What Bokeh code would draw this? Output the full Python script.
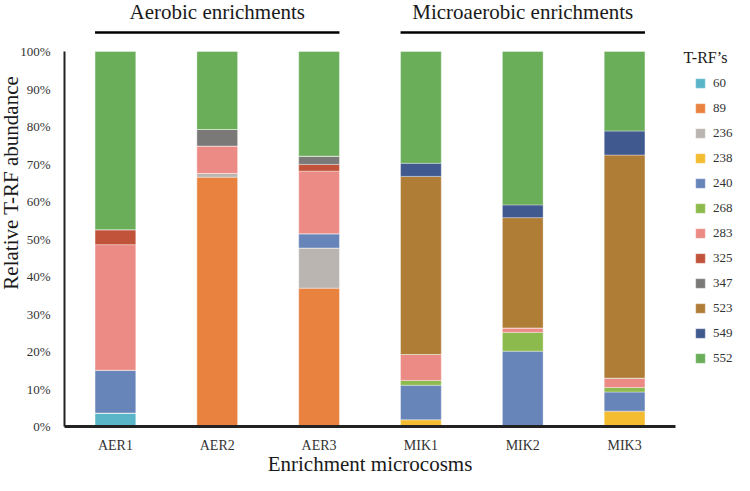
import math
from bokeh.plotting import figure
from bokeh.models import (Range1d, FixedTicker, PrintfTickFormatter, Legend,
                          LegendItem, ColumnDataSource)
from bokeh.core.properties import value
from bokeh.embed import file_html
from bokeh.resources import INLINE

# ---------------- data ----------------
samples = ["AER1", "AER2", "AER3", "MIK1", "MIK2", "MIK3"]
group_names = ["Aerobic enrichments", "Microaerobic enrichments"]
group_members = [["AER1", "AER2", "AER3"], ["MIK1", "MIK2", "MIK3"]]
trfs = ["60", "89", "236", "238", "240", "268", "283", "325", "347", "523", "549", "552"]
trf_colors = ["#5ab5c9", "#e9823f", "#bab5b1", "#f4bc31", "#6885b9", "#8dba4c",
              "#ec8b85", "#c0533a", "#7b7978", "#b07d36", "#40598f", "#6aae5a"]

t60 = [3.6, 0, 0, 0, 0, 0]
t89 = [0, 66.5, 36.9, 0, 0, 0]
t236 = [0, 1.0, 10.7, 0, 0, 0]
t238 = [0, 0, 0, 1.8, 0, 4.1]
t240 = [11.4, 0, 3.8, 9.2, 20.1, 5.1]
t268 = [0, 0, 0, 1.3, 5.0, 1.2]
t283 = [33.5, 7.3, 16.7, 6.9, 1.2, 2.5]
t325 = [4.0, 0, 1.8, 0, 0, 0]
t347 = [0, 4.4, 2.2, 0, 0, 0]
t523 = [0, 0, 0, 47.5, 29.4, 59.5]
t549 = [0, 0, 0, 3.5, 3.4, 6.4]
t552 = [47.5, 20.8, 27.9, 29.8, 40.9, 21.2]
series = [t60, t89, t236, t238, t240, t268, t283, t325, t347, t523, t549, t552]

y_ticks = [0, 10, 20, 30, 40, 50, 60, 70, 80, 90, 100]

# ---------------- layout ----------------
W, H = 734, 475
FONT = "Liberation Serif"
BAR_W = 0.4
AX_LEFT_PX, AX_RIGHT_PX = 64, 675     # x of y-axis, end of x-axis
Y0_PX, Y100_PX = 426, 51              # canvas y of 0% and 100%
px_x = (AX_RIGHT_PX - AX_LEFT_PX) / len(samples)
px_y = (Y0_PX - Y100_PX) / 100.0

def dx(px):
    return (px - AX_LEFT_PX) / px_x

def dy(py):
    return (Y0_PX - py) / px_y

xs = [i + 0.5 for i in range(len(samples))]
pos = dict(zip(samples, xs))

p = figure(width=W, height=H, output_backend="svg", toolbar_location=None,
           x_range=Range1d(dx(0), dx(W)), y_range=Range1d(dy(H), dy(0)),
           min_border=0, outline_line_color=None)
p.grid.visible = False
p.background_fill_color = "white"

src = ColumnDataSource(dict(x=xs, **{t: s for t, s in zip(trfs, series)}))
rends = p.vbar_stack(trfs, x="x", width=BAR_W, color=trf_colors, source=src,
                     line_color="white", line_width=0.6, line_alpha=0.6)

# axes
xa = p.xaxis[0]
xa.fixed_location = 0
xa.bounds = (0, len(samples))
xa.ticker = FixedTicker(ticks=xs)
xa.major_label_overrides = {x: s for x, s in zip(xs, samples)}
xa.major_tick_line_color = None
xa.minor_tick_line_color = None
xa.axis_line_width = 3
xa.axis_line_color = "#222222"
xa.major_label_text_font = FONT
xa.major_label_text_font_size = "14px"
xa.major_label_text_color = "#333333"
xa.major_label_standoff = 5

ya = p.yaxis[0]
ya.fixed_location = 0
ya.bounds = (0, 100)
ya.ticker = FixedTicker(ticks=y_ticks)
ya.formatter = PrintfTickFormatter(format="%d%%")
ya.major_tick_line_color = None
ya.minor_tick_line_color = None
ya.axis_line_width = 2
ya.axis_line_color = "#222222"
ya.major_label_text_font = FONT
ya.major_label_text_font_size = "13px"
ya.major_label_text_color = "#333333"
ya.major_label_standoff = 8

# group headers and lines
gx = [sum(pos[m] for m in g) / len(g) for g in group_members]
x0s = [pos[g[0]] - BAR_W / 2 for g in group_members]
x1s = [pos[g[-1]] + BAR_W / 2 for g in group_members]
line_y = dy(32)
p.segment(x0=x0s, x1=x1s, y0=[line_y] * 2, y1=[line_y] * 2,
          line_color="black", line_width=2.5)
p.text(x=gx, y=[dy(11)] * 2, text=group_names, text_font=value(FONT),
       text_font_size="21px", text_align="center", text_baseline="middle",
       text_color="#1a1a1a")

# axis titles
p.text(x=[dx(10)], y=[65], text=["Relative T-RF abundance"], angle=math.pi / 2,
       text_font=value(FONT), text_font_size="21px", text_align="center",
       text_baseline="middle", text_color="#1a1a1a")
p.text(x=[len(samples) / 2], y=[dy(463)], text=["Enrichment microcosms"],
       text_font=value(FONT), text_font_size="21px", text_align="center",
       text_baseline="middle", text_color="#1a1a1a")

# legend
p.text(x=[dx(705)], y=[dy(57)], text=["T-RF\u2019s"], text_font=value(FONT),
       text_font_size="16px", text_align="center", text_baseline="middle",
       text_color="#1a1a1a")
legend = Legend(items=[LegendItem(label=t, renderers=[r]) for t, r in zip(trfs, rends)],
                location=(694, 109), glyph_width=12, glyph_height=12,
                label_height=16, spacing=9, label_standoff=7, padding=0, margin=0,
                border_line_color=None, background_fill_alpha=0,
                label_text_font=FONT, label_text_font_size="13px",
                label_text_color="#333333")
p.add_layout(legend)

open("out.html", "w").write(file_html(p, INLINE))
